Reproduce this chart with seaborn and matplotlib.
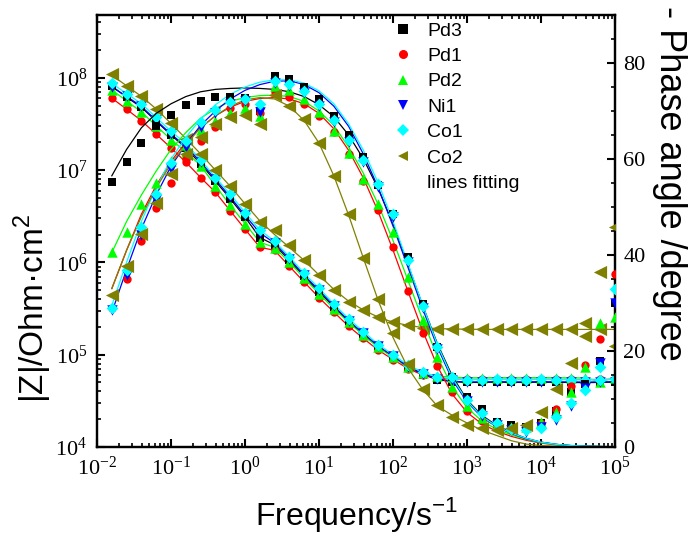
import matplotlib
matplotlib.use("Agg")
import matplotlib.pyplot as plt
import seaborn as sns
from matplotlib.lines import Line2D
from matplotlib.ticker import MultipleLocator

# frequency points (Hz), 5 per decade
freq = [0.01585, 0.02512, 0.03981, 0.0631, 0.1, 0.1585, 0.2512, 0.3981, 0.631, 1.0,
        1.585, 2.512, 3.981, 6.31, 10.0, 15.85, 25.12, 39.81, 63.1, 100.0,
        158.5, 251.2, 398.1, 631.0, 1000.0, 1585.0, 2512.0, 3981.0, 6310.0, 10000.0,
        15850.0, 25120.0, 39810.0, 63100.0, 100000.0]

# |Z| data (Ohm cm2)
pd3_z = [8.13e7, 6.17e7, 4.79e7, 3.39e7, 2.40e7, 1.74e7, 1.17e7, 7.59e6, 4.90e6, 3.09e6,
         1.86e6, 1.55e6, 1.05e6, 7.08e5, 4.79e5, 3.31e5, 2.29e5, 1.68e5, 1.23e5, 9.55e4,
         7.33e4, 6.10e4, 5.37e4, 5.10e4, 5.01e4, 5.01e4, 5.05e4, 5.01e4, 5.01e4, 5.05e4,
         5.01e4, 5.01e4, 4.98e4, 5.01e4, 5.05e4]
pd1_z = [6.03e7, 4.57e7, 3.43e7, 2.45e7, 1.74e7, 1.22e7, 8.32e6, 5.75e6, 3.63e6, 2.29e6,
         1.46e6, 1.35e6, 9.06e5, 6.12e5, 4.15e5, 2.90e5, 2.03e5, 1.50e5, 1.12e5, 8.87e4,
         7.08e4, 6.03e4, 5.62e4, 5.45e4, 5.40e4, 5.40e4, 5.42e4, 5.40e4, 5.40e4, 5.42e4,
         5.40e4, 5.40e4, 5.38e4, 5.40e4, 5.42e4]
pd2_z = [7.41e7, 5.62e7, 4.27e7, 3.02e7, 2.14e7, 1.58e7, 1.12e7, 6.76e6, 4.17e6, 2.63e6,
         1.66e6, 1.45e6, 1.00e6, 6.76e5, 4.57e5, 3.16e5, 2.24e5, 1.62e5, 1.20e5, 9.33e4,
         7.41e4, 6.31e4, 5.89e4, 5.70e4, 5.62e4, 5.62e4, 5.65e4, 5.62e4, 5.62e4, 5.65e4,
         5.62e4, 5.62e4, 5.60e4, 5.10e4, 5.62e4]
ni1_z = [7.94e7, 6.31e7, 4.90e7, 3.47e7, 2.45e7, 1.82e7, 1.23e7, 7.94e6, 5.13e6, 3.24e6,
         2.09e6, 1.62e6, 1.10e6, 7.24e5, 5.01e5, 3.39e5, 2.34e5, 1.70e5, 1.24e5, 9.66e4,
         7.41e4, 6.24e4, 5.50e4, 5.15e4, 5.07e4, 5.07e4, 5.10e4, 5.07e4, 5.07e4, 5.10e4,
         5.07e4, 5.07e4, 5.05e4, 5.07e4, 5.10e4]
co1_z = [8.71e7, 6.76e7, 5.25e7, 3.72e7, 2.63e7, 1.95e7, 1.29e7, 8.32e6, 5.50e6, 3.47e6,
         2.24e6, 1.70e6, 1.15e6, 7.59e5, 5.25e5, 3.55e5, 2.45e5, 1.78e5, 1.29e5, 1.00e5,
         7.76e4, 6.46e4, 5.75e4, 5.45e4, 5.37e4, 5.37e4, 5.40e4, 5.37e4, 5.37e4, 5.40e4,
         5.37e4, 5.37e4, 5.35e4, 5.37e4, 5.40e4]
co2_z = [1.10e8, 8.13e7, 6.38e7, 4.57e7, 3.21e7, 2.19e7, 1.50e7, 1.00e7, 6.76e6, 4.32e6,
         2.73e6, 2.22e6, 1.53e6, 1.05e6, 7.24e5, 5.07e5, 3.72e5, 3.02e5, 2.57e5, 2.26e5,
         2.09e5, 1.95e5, 1.90e5, 1.88e5, 1.88e5, 1.88e5, 1.88e5, 1.88e5, 1.88e5, 1.88e5,
         1.88e5, 1.88e5, 1.58e5, 1.88e5, 1.23e5]
co2_zfit = [1.07e8, 8.20e7, 6.30e7, 4.60e7, 3.20e7, 2.20e7, 1.50e7, 1.00e7, 6.70e6, 4.32e6,
            2.82e6, 2.00e6, 1.45e6, 1.05e6, 7.30e5, 5.10e5, 3.80e5, 3.05e5, 2.55e5, 2.25e5,
            2.08e5, 1.97e5, 1.92e5, 1.90e5, 1.89e5, 1.88e5, 1.88e5, 1.88e5, 1.88e5, 1.88e5,
            1.88e5, 1.88e5, 1.88e5, 1.88e5, 1.88e5]

# -phase data (degree)
pd3_ph = [55.2, 59.3, 63.3, 66.9, 69.2, 71.2, 72.0, 73.0, 73.0, 72.8, 70.0, 77.3, 76.6, 75.0,
          72.5, 69.0, 65.0, 60.4, 54.6, 48.6, 39.5, 29.7, 20.9, 14.5, 10.5, 8.0, 5.3, 4.5,
          4.2, 5.0, 7.5, 11.5, 13.2, 18.0, 30.0]
pd1_ph = [29.0, 35.0, 43.0, 49.8, 55.0, 60.0, 63.8, 66.7, 70.6, 71.4, 69.5, 73.9, 73.0, 71.4,
          69.0, 65.6, 61.1, 55.5, 49.3, 41.6, 32.5, 23.8, 16.8, 11.5, 7.5, 5.5, 4.2, 3.6,
          3.8, 5.0, 7.9, 12.7, 17.0, 22.4, 36.1]
pd2_ph = [40.6, 44.8, 50.7, 55.0, 59.5, 63.0, 66.0, 68.0, 69.5, 70.6, 69.0, 75.3, 74.4, 72.5,
          69.7, 65.9, 61.2, 55.9, 50.7, 44.8, 35.4, 26.4, 18.8, 12.5, 8.5, 6.0, 4.6, 4.2,
          4.2, 5.3, 7.3, 11.5, 16.6, 25.8, 27.0]
ni1_ph = [28.5, 35.8, 44.1, 51.5, 58.0, 62.5, 66.6, 69.5, 71.4, 72.0, 69.7, 75.8, 75.2, 73.8,
          71.0, 67.8, 63.6, 59.3, 54.2, 48.0, 38.5, 29.0, 20.5, 14.0, 9.5, 6.5, 4.5, 3.5,
          3.2, 4.1, 5.6, 8.5, 12.2, 17.5, 30.0]
co1_ph = [29.0, 36.8, 45.8, 52.7, 59.1, 63.8, 67.8, 70.2, 71.8, 72.5, 71.4, 76.3, 75.6, 74.1,
          71.4, 68.1, 64.0, 59.8, 54.7, 48.6, 38.9, 29.3, 20.9, 14.5, 9.8, 7.0, 5.0, 3.8,
          3.5, 4.0, 6.3, 9.1, 11.9, 16.6, 33.0]
co2_ph = [31.6, 37.8, 44.4, 50.8, 56.9, 61.0, 64.5, 67.3, 68.8, 69.2, 67.2, 73.4, 71.1, 68.3,
          63.3, 56.5, 48.6, 39.4, 30.9, 23.8, 17.3, 12.1, 8.7, 6.3, 4.6, 3.9, 3.5, 3.9,
          4.6, 7.3, 12.1, 17.6, 25.8, 36.4, 45.8]

# -phase fitted curves (degree)
pd3_fit = [56.5, 62.0, 66.5, 69.5, 71.5, 73.0, 74.0, 74.5, 74.7, 74.8, 74.7, 74.5, 74.0, 73.0,
           71.3, 68.8, 65.0, 60.0, 53.8, 46.5, 38.0, 29.5, 21.5, 14.8, 9.8, 6.6, 4.5, 3.0,
           1.8, 1.0, 0.55, 0.3, 0.17, 0.1, 0.06]
pd1_fit = [33.0, 41.0, 48.5, 54.5, 59.5, 63.5, 66.5, 69.0, 70.8, 72.0, 72.6, 72.8, 72.5, 71.5,
           69.5, 66.3, 61.8, 56.0, 49.0, 41.0, 32.5, 24.2, 16.8, 11.0, 7.2, 4.8, 3.3, 2.2,
           1.4, 0.8, 0.45, 0.25, 0.15, 0.09, 0.05]
pd2_fit = [40.5, 47.0, 52.5, 57.5, 62.0, 65.5, 68.5, 70.5, 72.0, 72.8, 73.2, 73.3, 73.0, 72.0,
           70.0, 67.0, 62.5, 57.0, 50.5, 43.0, 34.8, 26.5, 18.8, 12.5, 8.2, 5.4, 3.7, 2.5,
           1.6, 0.9, 0.5, 0.28, 0.16, 0.1, 0.06]
ni1_fit = [28.0, 37.0, 45.5, 52.5, 58.5, 63.0, 67.0, 70.0, 72.5, 74.3, 75.5, 76.2, 76.3, 75.5,
           73.8, 71.0, 66.8, 61.0, 54.0, 46.0, 37.5, 28.8, 20.8, 14.0, 9.4, 6.2, 4.2, 2.8,
           1.7, 1.0, 0.55, 0.3, 0.17, 0.1, 0.06]
co1_fit = [29.5, 38.5, 47.0, 54.0, 60.0, 64.5, 68.3, 71.3, 73.5, 75.0, 76.0, 76.5, 76.5, 75.8,
           74.2, 71.5, 67.3, 61.8, 55.0, 47.0, 38.3, 29.5, 21.3, 14.4, 9.6, 6.4, 4.3, 2.9,
           1.8, 1.0, 0.55, 0.3, 0.17, 0.1, 0.06]
co2_fit = [33.0, 41.0, 48.0, 54.0, 59.0, 63.0, 66.5, 69.0, 71.0, 72.3, 72.8, 72.5, 71.0, 68.0,
           63.3, 56.5, 48.3, 39.3, 30.5, 22.8, 16.5, 12.0, 8.5, 6.6, 5.0, 3.5, 2.4, 1.3,
           0.6, 0.3, 0.15, 0.08, 0.05, 0.03, 0.02]

names = ["Pd3", "Pd1", "Pd2", "Ni1", "Co1", "Co2"]
colors = ["black", "red", "#00ff00", "blue", "cyan", "#808000"]
markers = ["s", "o", "^", "v", "D", "<"]
msizes = [5.5, 6.0, 7.5, 7.5, 6.0, 9.5]
z_data = [pd3_z, pd1_z, pd2_z, ni1_z, co1_z, co2_z]
z_lines = [pd3_z, pd1_z, pd2_z, ni1_z, co1_z, co2_zfit]
ph_data = [pd3_ph, pd1_ph, pd2_ph, ni1_ph, co1_ph, co2_ph]
ph_fits = [pd3_fit, pd1_fit, pd2_fit, ni1_fit, co1_fit, co2_fit]

plt.rcParams["font.family"] = "Liberation Serif"
plt.rcParams["axes.linewidth"] = 1.6

fig = plt.figure(figsize=(6.88, 5.35), dpi=100)
ax = fig.add_axes([0.141, 0.1645, 0.753, 0.8075])
ax.set_xscale("log")
ax.set_yscale("log")
ax2 = ax.twinx()

for c, m, ms, z, zl, ph, fit in zip(colors, markers, msizes, z_data, z_lines, ph_data, ph_fits):
    sns.lineplot(x=freq, y=zl, color=c, lw=0.9, ax=ax, legend=False)
    sns.scatterplot(x=freq, y=z, color=c, marker=m, s=ms ** 2, linewidth=0, ax=ax,
                    legend=False, zorder=3)
    sns.lineplot(x=freq, y=fit, color=c, lw=0.9, ax=ax2, legend=False)
    sns.scatterplot(x=freq, y=ph, color=c, marker=m, s=ms ** 2, linewidth=0, ax=ax2,
                    legend=False, zorder=3)

ax.set_xlim(1e-2, 1e5)
ax.set_ylim(1e4, 4.8e8)
ax2.set_ylim(0, 90)
ax.set_xlabel("")
ax.set_ylabel("")
ax2.set_ylabel("")

ax.tick_params(which="both", direction="in", top=True, right=False, labelsize=16)
ax.tick_params(which="major", length=6, width=1.5, pad=7)
ax.tick_params(which="minor", length=3, width=1.2)
ax2.yaxis.set_major_locator(MultipleLocator(20))
ax2.yaxis.set_minor_locator(MultipleLocator(5))
ax2.tick_params(which="both", direction="in", labelsize=16)
ax2.tick_params(which="major", length=6, width=1.5, pad=6)
ax2.tick_params(which="minor", length=3, width=1.2)

fig.text(33 / 688, 1 - 308 / 535, r"|Z|/Ohm·cm$^{\mathregular{2}}$", rotation=90,
         ha="center", va="center", fontsize=24, family="Liberation Sans")
fig.text(670 / 688, 1 - 183 / 535, "- Phase angle /degree", rotation=270,
         ha="center", va="center", fontsize=26, family="Liberation Sans")
fig.text(356 / 688, 1 - 515 / 535, r"Frequency/s$^{\mathregular{-1}}$",
         ha="center", va="center", fontsize=23, family="Liberation Sans")

handles = [Line2D([], [], ls="none", marker=m, color=c, markersize=6.5, markeredgewidth=0)
           for c, m in zip(colors, markers)]
handles.append(Line2D([], [], ls="none", color="none"))
ax2.legend(handles, names + ["lines fitting"], loc="upper left",
           bbox_to_anchor=(393 / 688, 1 - 22 / 535), bbox_transform=fig.transFigure,
           frameon=False, prop={"family": "Liberation Sans", "size": 14},
           handlelength=1.0, handletextpad=0.75, labelspacing=0.4,
           borderpad=0, borderaxespad=0)

fig.savefig("out.png", dpi=100)
